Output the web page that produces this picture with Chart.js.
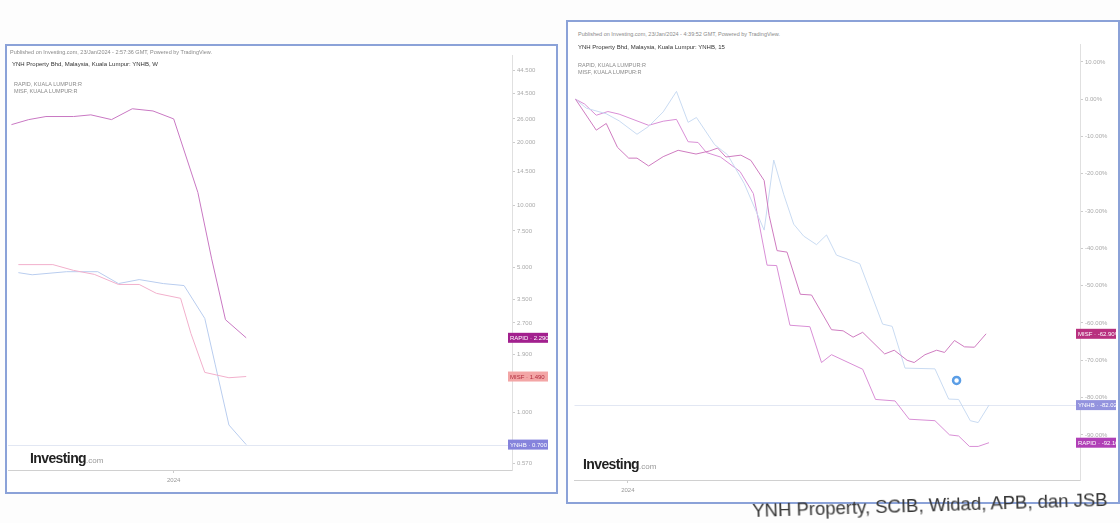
<!DOCTYPE html>
<html>
<head>
<meta charset="utf-8">
<script src="https://cdn.jsdelivr.net/npm/chart.js@4.4.1/dist/chart.umd.min.js"></script>
<style>
  html, body { margin: 0; padding: 0; background: #fdfdfd; }
  body { width: 1120px; height: 523px; position: relative; overflow: hidden; font-family: "Liberation Sans Narrow", "Liberation Sans", Arial, sans-serif; }
  .panel { position: absolute; border: 2px solid #8ba2d8; background: #fff; }
  .panel canvas { position: absolute; }
  .txt { position: absolute; white-space: nowrap; z-index: 2; }
  .pub { font-size: 5.5px; color: #8a8a8a; }
  .ttl { font-size: 6px; color: #333; }
  .leg { font-size: 5.5px; color: #8a8a8a; line-height: 6.5px; }
  .logo { font-size: 14px; font-weight: bold; color: #222; letter-spacing: -0.6px; }
  .logo span { font-size: 8px; font-weight: normal; color: #999; letter-spacing: 0; }
  .caption { position: absolute; left: 752px; top: 500px; font-family: "Liberation Sans", Arial, sans-serif; font-size: 18.5px; color: #333; white-space: nowrap; transform: rotate(-1.8deg); transform-origin: left top; }
</style>
</head>
<body>

<div class="panel" id="leftPanel" style="left:5px; top:44px; width:549px; height:446px;">
  <canvas id="leftChart" style="left:1px; top:4px;"></canvas>
  <div class="txt pub" style="left:3px; top:3px;">Published on Investing.com, 23/Jan/2024 - 2:57:36 GMT, Powered by TradingView.</div>
  <div class="txt ttl" style="left:5px; top:15px;">YNH Property Bhd, Malaysia, Kuala Lumpur: YNHB, W</div>
  <div class="txt leg" style="left:7px; top:35px;">RAPID, KUALA LUMPUR:R<br>MISF, KUALA LUMPUR:R</div>
  <div class="txt logo" style="left:23px; top:404px;">Investing<span>.com</span></div>
</div>

<div class="panel" id="rightPanel" style="left:566px; top:20px; width:550px; height:480px;">
  <canvas id="rightChart" style="left:0px; top:16px;"></canvas>
  <div class="txt pub" style="left:10px; top:9px;">Published on Investing.com, 23/Jan/2024 - 4:39:52 GMT, Powered by TradingView.</div>
  <div class="txt ttl" style="left:10px; top:22px;">YNH Property Bhd, Malaysia, Kuala Lumpur: YNHB, 15</div>
  <div class="txt leg" style="left:10px; top:40px;">RAPID, KUALA LUMPUR:R<br>MISF, KUALA LUMPUR:R</div>
  <div class="txt logo" style="left:15px; top:434px;">Investing<span>.com</span></div>
</div>

<div class="caption">YNH Property, SCIB, Widad, APB, dan JSB</div>

<script>
// ---- Left chart: prices, log scale (x = days from 1 Jan 2024) ----
const leftRapidX = [-47, -42, -37, -29, -24, -18, -12, -6, 0, 7, 11, 15, 21];
const leftRapidY = [24.4, 25.8, 26.7, 26.7, 27.2, 25.8, 29.1, 28.4, 26.0, 11.5, 5.5, 2.8, 2.29];
const leftMisfX = [-45, -35, -29, -23, -16, -10, -5, 2, 5, 9, 16, 21];
const leftMisfY = [5.16, 5.16, 4.84, 4.63, 4.14, 4.14, 3.75, 3.55, 2.40, 1.56, 1.47, 1.49];
const leftYnhbX = [-45, -41, -31, -22, -16, -10, -3, 3, 9, 12, 16, 21];
const leftYnhbY = [4.72, 4.61, 4.77, 4.77, 4.18, 4.37, 4.18, 4.09, 2.84, 1.71, 0.87, 0.70];
const leftTicks = [44.5, 34.5, 26, 20, 14.5, 10, 7.5, 5, 3.5, 2.7, 1.9, 1.0, 0.57];
const leftXTicks = [0];
const leftXLabels = ['2024'];

// ---- Right chart: % change (x = time index) ----
const rightRapidX = [0, 2.2, 5.0, 7.8, 10.5, 17.6, 21.1, 24.3, 27.1, 29.5, 31.5, 34.9, 39.6, 42.8, 46.1, 48.4, 51.6, 56.4, 59.2, 61.6, 69.1, 72.2, 76.9, 80.3, 86.5, 90.0, 92.2, 94.8, 96.9, 99.5];
const rightRapidY = [0, -1.3, -4.3, -3.3, -4.0, -7.0, -5.9, -5.4, -11.4, -11.6, -14.3, -15.5, -19.4, -25.3, -44.5, -44.6, -60.6, -61.0, -70.6, -68.5, -72.4, -80.5, -80.9, -85.8, -86.2, -90.0, -90.3, -93.1, -93.1, -92.10];
const rightMisfX = [0, 5.0, 7.4, 10.1, 12.8, 14.8, 17.6, 21.1, 24.7, 29.0, 32.2, 34.2, 36.2, 39.8, 42.2, 45.4, 46.6, 48.5, 50.9, 54.1, 56.8, 61.6, 64.4, 66.8, 69.1, 74.4, 76.7, 79.8, 81.5, 84.1, 86.9, 88.8, 91.2, 93.6, 96.0, 98.8];
const rightMisfY = [0, -8.3, -6.5, -12.9, -15.8, -15.8, -17.9, -15.4, -13.7, -14.7, -13.9, -13.1, -15.5, -15.0, -16.4, -21.8, -31.2, -40.6, -41.0, -52.3, -52.5, -61.8, -62.1, -63.8, -62.5, -68.3, -67.3, -70.0, -70.6, -68.5, -67.3, -67.9, -64.7, -66.4, -66.5, -62.90];
const rightYnhbX = [0, 2.6, 7.4, 10.5, 14.8, 17.6, 21.1, 24.3, 27.1, 29.1, 33.5, 36.6, 40.6, 45.4, 47.7, 50.1, 52.5, 54.9, 58.0, 60.4, 62.8, 68.4, 73.9, 76.2, 79.3, 86.5, 89.8, 92.2, 95.0, 96.9, 99.5];
const rightYnhbY = [0, -2.4, -3.9, -5.8, -9.4, -7.3, -3.4, 2.1, -6.2, -4.9, -12.2, -14.9, -22.6, -35.1, -16.3, -25.5, -33.5, -36.7, -39.0, -36.4, -41.8, -44.1, -60.3, -60.9, -72.1, -72.3, -80.4, -80.5, -86.2, -86.7, -82.02];
const rightTicks = [10, 0, -10, -20, -30, -40, -50, -60, -70, -80, -90];
const rightXTicks = [12.6];
const rightXLabels = ['2024'];
const rightMarkerX = [91.7];
const rightMarkerY = [-75.4];

const tickFont = { family: '"Liberation Sans Narrow", "Liberation Sans", Arial', size: 6 };

function toPoints(xs, ys) {
    return xs.map((x, i) => ({ x: x, y: ys[i] }));
}

function lineSet(name, xs, ys, color, badgeBg, badgeFg, fmt) {
    return {
        label: name,
        data: toPoints(xs, ys),
        borderColor: color,
        borderWidth: 1,
        pointRadius: 0,
        tension: 0,
        badge: { bg: badgeBg, fg: badgeFg, text: name + ' \u00b7 ' + fmt(ys[ys.length - 1]) }
    };
}

/**
 * Horizontal price line at last value of main symbol + value badges on axis
 */
const badgePlugin = {
    id: 'badges',
    beforeDatasetsDraw(chart, args, opts) {
        if (opts.priceLine === undefined) return;
        const { ctx, chartArea } = chart;
        const y = chart.scales.y.getPixelForValue(opts.priceLine);
        ctx.save();
        ctx.strokeStyle = '#e2e7f3';
        ctx.lineWidth = 1;
        ctx.beginPath();
        ctx.moveTo(chartArea.left, Math.round(y) + 0.5);
        ctx.lineTo(chartArea.right, Math.round(y) + 0.5);
        ctx.stroke();
        ctx.restore();
    },
    afterDraw(chart) {
        const { ctx, chartArea } = chart;
        const yScale = chart.scales.y;
        ctx.save();
        ctx.font = '6px "Liberation Sans Narrow", "Liberation Sans", Arial';
        ctx.textBaseline = 'middle';
        chart.data.datasets.forEach(ds => {
            if (!ds.badge) return;
            const last = ds.data[ds.data.length - 1].y;
            const y = yScale.getPixelForValue(last);
            const x = chartArea.right - 4;
            ctx.fillStyle = ds.badge.bg;
            ctx.fillRect(x, y - 5, 40, 10);
            ctx.fillStyle = ds.badge.fg;
            ctx.fillText(ds.badge.text, x + 2, y + 0.5);
        });
        ctx.restore();
    }
};

function axisX(min, max, tickVals, labels, height) {
    return {
        type: 'linear',
        min: min,
        max: max,
        afterBuildTicks: s => { s.ticks = tickVals.map(v => ({ value: v })); },
        afterFit: s => { s.height = height; },
        ticks: {
            autoSkip: false,
            maxRotation: 0,
            font: tickFont,
            color: '#999',
            padding: 4,
            callback: (v, i) => labels[i]
        },
        grid: { drawOnChartArea: false, tickLength: 3, color: '#ccc' },
        border: { display: true, color: '#d0d0d0' }
    };
}

function axisY(type, min, max, tickVals, fmt) {
    return {
        type: type,
        position: 'right',
        min: min,
        max: max,
        afterBuildTicks: s => { s.ticks = tickVals.map(v => ({ value: v })); },
        afterFit: s => { s.width = 36; },
        ticks: {
            autoSkip: false,
            font: tickFont,
            color: '#aaa',
            padding: 2,
            callback: v => fmt(v)
        },
        grid: { drawOnChartArea: false, tickLength: 3, color: '#ccc' },
        border: { display: true, color: '#e0e0e0' }
    };
}

function initLeftChart() {
    const canvas = document.getElementById('leftChart');
    canvas.width = 540;
    canvas.height = 440;
    const price = v => v.toFixed(3);
    new Chart(canvas.getContext('2d'), {
        type: 'line',
        data: {
            datasets: [
                lineSet('RAPID', leftRapidX, leftRapidY, '#c978c3', '#a2208e', '#fff', price),
                lineSet('MISF', leftMisfX, leftMisfY, '#f2b0cc', '#f3a6a6', '#b02a3c', price),
                lineSet('YNHB', leftYnhbX, leftYnhbY, '#b9cdef', '#8583dc', '#fff', price)
            ]
        },
        options: {
            responsive: false,
            animation: false,
            layout: { padding: { top: 2, left: 0, right: 0, bottom: 0 } },
            plugins: {
                legend: { display: false },
                tooltip: { enabled: false },
                badges: { priceLine: leftYnhbY[leftYnhbY.length - 1] }
            },
            scales: {
                x: axisX(-48, 98, leftXTicks, leftXLabels, 20),
                y: axisY('logarithmic', 0.528, 52.5, leftTicks, price)
            }
        },
        plugins: [badgePlugin]
    });
}

function initRightChart() {
    const canvas = document.getElementById('rightChart');
    canvas.width = 548;
    canvas.height = 462;
    const pct = v => v.toFixed(2) + '%';
    new Chart(canvas.getContext('2d'), {
        type: 'line',
        data: {
            datasets: [
                lineSet('MISF', rightMisfX, rightMisfY, '#cf7cc0', '#b8307f', '#fff', pct),
                lineSet('YNHB', rightYnhbX, rightYnhbY, '#c9dbf2', '#9393de', '#fff', pct),
                lineSet('RAPID', rightRapidX, rightRapidY, '#d98fd6', '#b03fb6', '#fff', pct),
                {
                    label: 'marker',
                    data: toPoints(rightMarkerX, rightMarkerY),
                    showLine: false,
                    pointRadius: 3.5,
                    pointBackgroundColor: '#ffffff',
                    pointBorderColor: '#5b9ee6',
                    pointBorderWidth: 2.5
                }
            ]
        },
        options: {
            responsive: false,
            animation: false,
            layout: { padding: { top: 4, left: 0, right: 0, bottom: 0 } },
            plugins: {
                legend: { display: false },
                tooltip: { enabled: false },
                badges: { priceLine: rightYnhbY[rightYnhbY.length - 1] }
            },
            scales: {
                x: axisX(-0.24, 121.4, rightXTicks, rightXLabels, 20),
                y: axisY('linear', -102.1, 14.67, rightTicks, pct)
            }
        },
        plugins: [badgePlugin]
    });
}

initLeftChart();
initRightChart();
</script>
</body>
</html>
